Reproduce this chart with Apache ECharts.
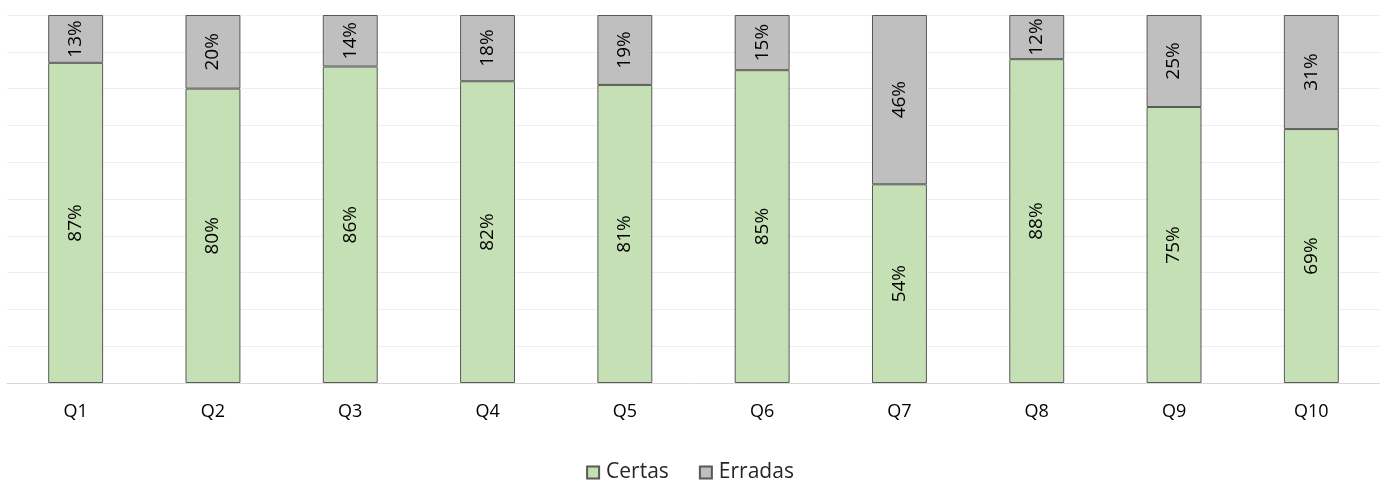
<!DOCTYPE html>
<html>
<head>
<meta charset="utf-8">
<script src="https://cdn.jsdelivr.net/npm/echarts@6/dist/echarts.min.js"></script>
<style>
  html, body { margin: 0; padding: 0; background: #fff; }
  #chart { width: 1380px; height: 482px; }
</style>
</head>
<body>
<div id="chart"></div>
<script>
// questions and the share of right / wrong answers (%)
var categories = ['Q1', 'Q2', 'Q3', 'Q4', 'Q5', 'Q6', 'Q7', 'Q8', 'Q9', 'Q10'];
var certas = [87, 80, 86, 82, 81, 85, 54, 88, 75, 69];
var erradas = [13, 20, 14, 18, 19, 15, 46, 12, 25, 31];

var myChart = echarts.init(document.getElementById('chart'));

var labelStyle = {
    show: true,
    position: 'inside',
    rotate: 90,
    fontSize: 19,
    fontFamily: 'Open Sans',
    color: '#000',
    formatter: '{c}%'
};

var option = {
    animation: false,
    textStyle: { fontFamily: 'Open Sans' },
    grid: { left: 7, right: 0, top: 15, bottom: 99 },
    legend: {
        top: 457,
        left: 'center',
        icon: 'rect',
        itemWidth: 12,
        itemHeight: 12,
        itemGap: 30,
        textStyle: { fontSize: 21, color: '#262626', fontFamily: 'Open Sans', padding: [0, 0, 0, 2] },
        data: ['Certas', 'Erradas']
    },
    xAxis: {
        type: 'category',
        data: categories,
        axisTick: { show: false },
        axisLine: { lineStyle: { color: '#d9d9d9', width: 1 } },
        axisLabel: { fontSize: 18, color: '#000', margin: 20 }
    },
    yAxis: {
        type: 'value',
        min: 0,
        max: 100,
        interval: 10,
        axisLabel: { show: false },
        axisLine: { show: false },
        axisTick: { show: false },
        splitLine: { lineStyle: { color: '#eeeeee', width: 1 } }
    },
    series: [
        {
            name: 'Certas',
            type: 'bar',
            stack: 'total',
            barWidth: '40%',
            data: certas,
            itemStyle: { color: '#c5e0b4', borderColor: '#595959', borderWidth: 1 },
            label: labelStyle
        },
        {
            name: 'Erradas',
            type: 'bar',
            stack: 'total',
            barWidth: '40%',
            data: erradas,
            itemStyle: { color: '#bfbfbf', borderColor: '#595959', borderWidth: 1 },
            label: labelStyle
        }
    ]
};

option && myChart.setOption(option);
</script>
</body>
</html>
